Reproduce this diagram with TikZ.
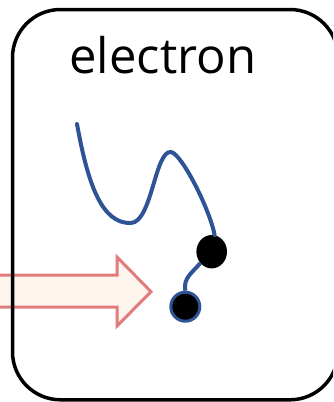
\documentclass[tikz,border=0pt]{standalone}
\usepackage{fontspec}
\setmainfont{Open Sans}
\usetikzlibrary{shapes.geometric}
\definecolor{wireblue}{RGB}{47,84,150}
\definecolor{arrowred}{RGB}{226,124,124}
\definecolor{arrowfill}{RGB}{253,244,238}
\tikzset{
  boxline/.style={draw=black, line width=3.5pt},
  wire/.style={draw=wireblue, line width=4pt},
  bigarrow/.style={draw=arrowred, fill=arrowfill, line width=3pt, line join=miter},
  bigdot/.style={ellipse, fill=black, inner sep=0pt, minimum width=30.6pt, minimum height=33.4pt},
  smalldot/.style={circle, fill=black, draw=wireblue, line width=3pt, inner sep=0pt, minimum size=29pt}
}
\begin{document}
\begin{tikzpicture}[x=1pt, y=-1pt]
\useasboundingbox (0,0) rectangle (333,402);
\clip (0,0) rectangle (333,402);
% arrow
\draw[bigarrow] (-10,275) -- (117,275) -- (117,257) -- (151,291.7) -- (117,326) -- (117,307) -- (-10,307) -- cycle;
% box
\draw[boxline, rounded corners=48pt] (12.5,9.5) rectangle (338,399.8);
\node[anchor=base, font=\fontsize{49}{58}\selectfont, inner sep=0pt] (title) at (162.8,73.3) {electron};
% dots
\node[bigdot] (e1) at (211.7,251.7) {};
\node[smalldot] (e2) at (185.3,306.7) {};
\coordinate (s) at (77,124);
\coordinate (m1) at (131,223);
\coordinate (m2) at (171,152);
\draw[wire, line cap=round] (s) .. controls (88,185) and (102,224) .. (m1)
  .. controls (152,222) and (155,150) .. (m2)
  .. controls (182,154) and (210,210) .. (e1.80);
\draw[wire] (e1.225) .. controls (192,273) and (183,278) .. (e2.north);
\end{tikzpicture}
\end{document}
